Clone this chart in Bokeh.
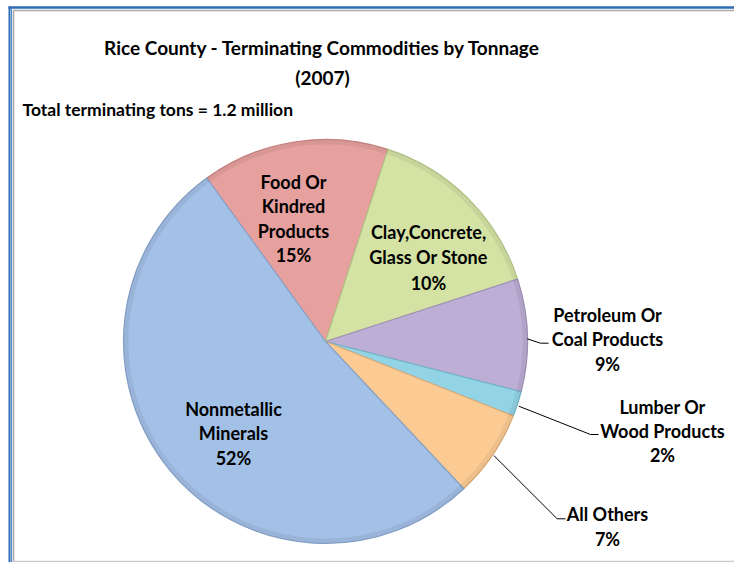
import math
from bokeh.plotting import figure
from bokeh.models import Range1d, ColumnDataSource
from bokeh.core.properties import value
from bokeh.embed import file_html
from bokeh.resources import INLINE

# ---- data (clockwise from the Food slice) ----
categories = ["Food Or Kindred Products", "Clay,Concrete, Glass Or Stone",
              "Petroleum Or Coal Products", "Lumber Or Wood Products",
              "All Others", "Nonmetallic Minerals"]
shares = [15, 15, 9, 2, 7, 52]
pct_labels = ["15%", "10%", "9%", "2%", "7%", "52%"]
colors = ["#e6a19f", "#d4e3a4", "#bdaed5", "#92d3e5", "#fccb94", "#a3c0e6"]
edge_colors = ["#c98483", "#b3c487", "#9f91b8", "#72b4c6", "#dcab76", "#87a3c9"]

title = "Rice County - Terminating Commodities by Tonnage"
subtitle = "(2007)"
note = "Total terminating tons = 1.2 million"

W, H = 734, 562
FONT = "Lato"

p = figure(width=W, height=H, output_backend="svg", toolbar_location=None,
           x_range=Range1d(0, W), y_range=Range1d(0, H),
           min_border=0)
p.axis.visible = False
p.grid.visible = False
p.outline_line_color = None
p.background_fill_color = "white"
p.border_fill_color = "white"


def Y(sy):  # screen y -> data y
    return H - sy


# ---- pie ----
cx, cy, r = 325, Y(341), 202
start = 126.0  # degrees, math convention
total = sum(shares)
starts, ends = [], []
a = start
for s in shares:
    starts.append(math.radians(a))
    a -= s / total * 360.0
    ends.append(math.radians(a))
src = ColumnDataSource(dict(cat=categories, share=shares, start=starts, end=ends,
                            color=colors, edge=edge_colors))
p.wedge(x=cx, y=cy, radius=r, start_angle="start", end_angle="end",
        direction="clock", fill_color="color", line_color="edge",
        line_width=1.2, source=src)
# soft bevel at the rim
p.annular_wedge(x=cx, y=cy, inner_radius=r - 5, outer_radius=r,
                start_angle="start", end_angle="end", direction="clock",
                fill_color="black", fill_alpha=0.06, line_color=None, source=src)

# ---- labels ----
text_kw = dict(text_font=value(FONT), text_font_style="bold",
               text_color="black", text_align="center", text_baseline="middle")
label_layout = [
    (["Food Or", "Kindred", "Products"], 293, 181, 24.5),
    (["Clay,Concrete,", "Glass Or Stone"], 428, 231, 25.5),
    (["Petroleum Or", "Coal Products"], 607, 314, 24.5),
    (["Lumber Or", "Wood Products"], 662, 406, 24),
    (["All Others"], 607, 513, 25),
    (["Nonmetallic", "Minerals"], 233, 408, 24.5),
]
for (lines, lx, ly, step), pct in zip(label_layout, pct_labels):
    allines = lines + [pct]
    xs = [lx] * len(allines)
    ys = [Y(ly + i * step) for i in range(len(allines))]
    p.text(x=xs, y=ys, text=allines, text_font_size="18px", **text_kw)

# leader lines
leaders = [
    ([526.7, 540, 548], [338.3, 342.7, 342.7]),
    ([518.3, 590, 598], [405.7, 434, 434]),
    ([493.3, 556.7, 565], [455, 518.3, 518.3]),
]
for xs, ys in leaders:
    p.line(xs, [Y(v) for v in ys], line_color="black", line_width=1)

# ---- titles ----
p.text(x=[322], y=[Y(47)], text=[title], text_font_size="19px", **text_kw)
p.text(x=[322], y=[Y(77)], text=[subtitle], text_font_size="19px", **text_kw)
p.text(x=[22], y=[Y(109)], text=[note], text_font_size="17.5px",
       text_font=value(FONT), text_font_style="bold", text_color="black",
       text_align="left", text_baseline="middle")

# ---- chart border ----
p.line([9, 9], [Y(6), Y(562)], line_color="#2f6db4", line_width=2)
p.line([11, 11], [Y(8), Y(562)], line_color="#4f8fd0", line_width=1.2)
p.line([8, 734], [Y(7), Y(7)], line_color="#2f6db4", line_width=2.5)
p.line([13, 13], [Y(10), Y(561)], line_color="#a8a8a8", line_width=1.5)
p.line([13, 734], [Y(10), Y(10)], line_color="#a8a8a8", line_width=1.5)
p.line([13, 734], [Y(561), Y(561)], line_color="#c8c8c8", line_width=1.5)

open("out.html", "w").write(file_html(p, INLINE))
